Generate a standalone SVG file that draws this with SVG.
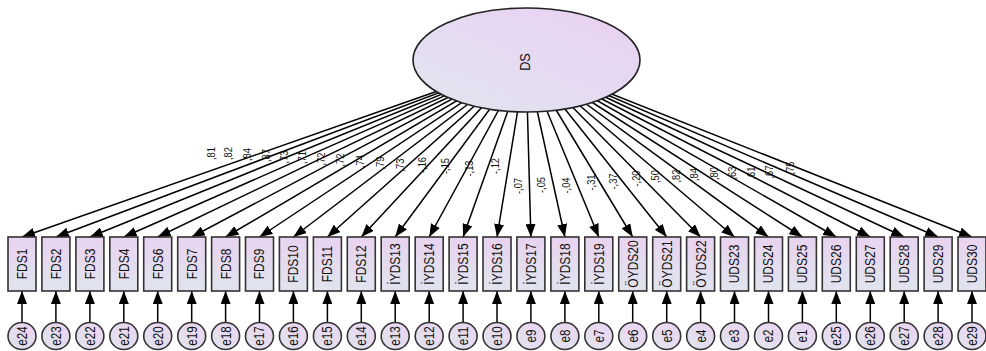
<svg xmlns="http://www.w3.org/2000/svg" width="986" height="351" viewBox="0 0 986 351">
  <defs>
    <linearGradient id="gLatent" x1="0" y1="1" x2="1" y2="0">
      <stop offset="0" stop-color="#e2e5f0"/>
      <stop offset="1" stop-color="#e9d0f2"/>
    </linearGradient>
    <linearGradient id="gBox" x1="0" y1="0" x2="0" y2="1">
      <stop offset="0" stop-color="#e9d3f0"/>
      <stop offset="1" stop-color="#e0e4ee"/>
    </linearGradient>
    <linearGradient id="gErr" x1="0" y1="1" x2="1" y2="0">
      <stop offset="0" stop-color="#e1e4ee"/>
      <stop offset="1" stop-color="#ebd3f1"/>
    </linearGradient>
    <marker id="head" markerUnits="userSpaceOnUse" markerWidth="13" markerHeight="10" refX="13" refY="5" orient="auto">
      <path d="M0,0 L13,5 L0,10 z" fill="#000"/>
    </marker>
  </defs>
  <style>
    .path { stroke: #000; stroke-width: 1.5; fill: none; marker-end: url(#head); }
    .box { fill: url(#gBox); stroke: #333; stroke-width: 1.6; }
    .err { fill: url(#gErr); stroke: #333; stroke-width: 1.6; }
    .lat { fill: url(#gLatent); stroke: #222; stroke-width: 1.6; }
    text { font-family: "Liberation Sans", Arial, sans-serif; fill: #111; text-anchor: middle; dominant-baseline: central; }
    .vn { font-size: 15px; }
    .en { font-size: 14.5px; }
    .coef { font-size: 11px; }
  </style>

  <!-- regression paths: latent factor to indicators, errors to indicators -->
  <g id="connectors">
    <line class="path" x1="526" y1="60" x2="22" y2="237"/>
    <line class="path" x1="526" y1="60" x2="55.9" y2="237"/>
    <line class="path" x1="526" y1="60" x2="89.9" y2="237"/>
    <line class="path" x1="526" y1="60" x2="123.8" y2="237"/>
    <line class="path" x1="526" y1="60" x2="157.7" y2="237"/>
    <line class="path" x1="526" y1="60" x2="191.7" y2="237"/>
    <line class="path" x1="526" y1="60" x2="225.6" y2="237"/>
    <line class="path" x1="526" y1="60" x2="259.5" y2="237"/>
    <line class="path" x1="526" y1="60" x2="293.4" y2="237"/>
    <line class="path" x1="526" y1="60" x2="327.4" y2="237"/>
    <line class="path" x1="526" y1="60" x2="361.3" y2="237"/>
    <line class="path" x1="526" y1="60" x2="395.2" y2="237"/>
    <line class="path" x1="526" y1="60" x2="429.2" y2="237"/>
    <line class="path" x1="526" y1="60" x2="463.1" y2="237"/>
    <line class="path" x1="526" y1="60" x2="497" y2="237"/>
    <line class="path" x1="526" y1="60" x2="530.9" y2="237"/>
    <line class="path" x1="526" y1="60" x2="564.9" y2="237"/>
    <line class="path" x1="526" y1="60" x2="598.8" y2="237"/>
    <line class="path" x1="526" y1="60" x2="632.7" y2="237"/>
    <line class="path" x1="526" y1="60" x2="666.7" y2="237"/>
    <line class="path" x1="526" y1="60" x2="700.6" y2="237"/>
    <line class="path" x1="526" y1="60" x2="734.5" y2="237"/>
    <line class="path" x1="526" y1="60" x2="768.5" y2="237"/>
    <line class="path" x1="526" y1="60" x2="802.4" y2="237"/>
    <line class="path" x1="526" y1="60" x2="836.3" y2="237"/>
    <line class="path" x1="526" y1="60" x2="870.3" y2="237"/>
    <line class="path" x1="526" y1="60" x2="904.2" y2="237"/>
    <line class="path" x1="526" y1="60" x2="938.1" y2="237"/>
    <line class="path" x1="526" y1="60" x2="972" y2="237"/>

    <line class="path" x1="22" y1="323" x2="22" y2="291"/>
    <line class="path" x1="55.9" y1="323" x2="55.9" y2="291"/>
    <line class="path" x1="89.9" y1="323" x2="89.9" y2="291"/>
    <line class="path" x1="123.8" y1="323" x2="123.8" y2="291"/>
    <line class="path" x1="157.7" y1="323" x2="157.7" y2="291"/>
    <line class="path" x1="191.7" y1="323" x2="191.7" y2="291"/>
    <line class="path" x1="225.6" y1="323" x2="225.6" y2="291"/>
    <line class="path" x1="259.5" y1="323" x2="259.5" y2="291"/>
    <line class="path" x1="293.4" y1="323" x2="293.4" y2="291"/>
    <line class="path" x1="327.4" y1="323" x2="327.4" y2="291"/>
    <line class="path" x1="361.3" y1="323" x2="361.3" y2="291"/>
    <line class="path" x1="395.2" y1="323" x2="395.2" y2="291"/>
    <line class="path" x1="429.2" y1="323" x2="429.2" y2="291"/>
    <line class="path" x1="463.1" y1="323" x2="463.1" y2="291"/>
    <line class="path" x1="497" y1="323" x2="497" y2="291"/>
    <line class="path" x1="530.9" y1="323" x2="530.9" y2="291"/>
    <line class="path" x1="564.9" y1="323" x2="564.9" y2="291"/>
    <line class="path" x1="598.8" y1="323" x2="598.8" y2="291"/>
    <line class="path" x1="632.7" y1="323" x2="632.7" y2="291"/>
    <line class="path" x1="666.7" y1="323" x2="666.7" y2="291"/>
    <line class="path" x1="700.6" y1="323" x2="700.6" y2="291"/>
    <line class="path" x1="734.5" y1="323" x2="734.5" y2="291"/>
    <line class="path" x1="768.5" y1="323" x2="768.5" y2="291"/>
    <line class="path" x1="802.4" y1="323" x2="802.4" y2="291"/>
    <line class="path" x1="836.3" y1="323" x2="836.3" y2="291"/>
    <line class="path" x1="870.3" y1="323" x2="870.3" y2="291"/>
    <line class="path" x1="904.2" y1="323" x2="904.2" y2="291"/>
    <line class="path" x1="938.1" y1="323" x2="938.1" y2="291"/>
    <line class="path" x1="972" y1="323" x2="972" y2="291"/>

    <!-- standardized loadings -->
    <g class="coef">
      <text transform="translate(211,153.5) rotate(-90) scale(0.85,1)">,81</text>
      <text transform="translate(228.5,153.5) rotate(-90) scale(0.85,1)">,82</text>
      <text transform="translate(247.5,154.5) rotate(-90) scale(0.85,1)">,84</text>
      <text transform="translate(266,155.5) rotate(-90) scale(0.85,1)">,87</text>
      <text transform="translate(284,157) rotate(-90) scale(0.85,1)">,73</text>
      <text transform="translate(302,157.5) rotate(-90) scale(0.85,1)">,71</text>
      <text transform="translate(321,159) rotate(-90) scale(0.85,1)">,72</text>
      <text transform="translate(340,160) rotate(-90) scale(0.85,1)">,72</text>
      <text transform="translate(360,161.5) rotate(-90) scale(0.85,1)">,74</text>
      <text transform="translate(380,163) rotate(-90) scale(0.85,1)">,79</text>
      <text transform="translate(400,165) rotate(-90) scale(0.85,1)">,73</text>
      <text transform="translate(422,165) rotate(-90) scale(0.85,1)">-,16</text>
      <text transform="translate(445,166) rotate(-90) scale(0.85,1)">-,15</text>
      <text transform="translate(469,168.5) rotate(-90) scale(0.85,1)">-,13</text>
      <text transform="translate(495,166) rotate(-90) scale(0.85,1)">-,12</text>
      <text transform="translate(518.5,186) rotate(-90) scale(0.85,1)">-,07</text>
      <text transform="translate(541.5,185) rotate(-90) scale(0.85,1)">-,05</text>
      <text transform="translate(566.5,185.5) rotate(-90) scale(0.85,1)">-,04</text>
      <text transform="translate(591.5,182.5) rotate(-90) scale(0.85,1)">-,31</text>
      <text transform="translate(613.5,181.5) rotate(-90) scale(0.85,1)">-,37</text>
      <text transform="translate(636.5,178.5) rotate(-90) scale(0.85,1)">-,20</text>
      <text transform="translate(655,176.5) rotate(-90) scale(0.85,1)">,50</text>
      <text transform="translate(676,176) rotate(-90) scale(0.85,1)">,82</text>
      <text transform="translate(694,174.5) rotate(-90) scale(0.85,1)">,84</text>
      <text transform="translate(714,173.5) rotate(-90) scale(0.85,1)">,80</text>
      <text transform="translate(732.5,173) rotate(-90) scale(0.85,1)">,63</text>
      <text transform="translate(751,173) rotate(-90) scale(0.85,1)">,61</text>
      <text transform="translate(769,172) rotate(-90) scale(0.85,1)">,67</text>
      <text transform="translate(790,168) rotate(-90) scale(0.85,1)">,75</text>
    </g>
  </g>

  <!-- latent factor -->
  <g id="DS">
    <ellipse class="lat" cx="526.5" cy="60" rx="113.5" ry="52"/>
    <text class="vn" transform="translate(525,62) rotate(-90) scale(0.85,1)">DS</text>
  </g>

  <!-- observed indicators -->
  <g id="FDS1"><rect class="box" x="8" y="237" width="28" height="54"/><text class="vn" transform="translate(22,264) rotate(-90) scale(0.8,1)">FDS1</text></g>
  <g id="FDS2"><rect class="box" x="41.9" y="237" width="28" height="54"/><text class="vn" transform="translate(55.9,264) rotate(-90) scale(0.8,1)">FDS2</text></g>
  <g id="FDS3"><rect class="box" x="75.9" y="237" width="28" height="54"/><text class="vn" transform="translate(89.9,264) rotate(-90) scale(0.8,1)">FDS3</text></g>
  <g id="FDS4"><rect class="box" x="109.8" y="237" width="28" height="54"/><text class="vn" transform="translate(123.8,264) rotate(-90) scale(0.8,1)">FDS4</text></g>
  <g id="FDS6"><rect class="box" x="143.7" y="237" width="28" height="54"/><text class="vn" transform="translate(157.7,264) rotate(-90) scale(0.8,1)">FDS6</text></g>
  <g id="FDS7"><rect class="box" x="177.7" y="237" width="28" height="54"/><text class="vn" transform="translate(191.7,264) rotate(-90) scale(0.8,1)">FDS7</text></g>
  <g id="FDS8"><rect class="box" x="211.6" y="237" width="28" height="54"/><text class="vn" transform="translate(225.6,264) rotate(-90) scale(0.8,1)">FDS8</text></g>
  <g id="FDS9"><rect class="box" x="245.5" y="237" width="28" height="54"/><text class="vn" transform="translate(259.5,264) rotate(-90) scale(0.8,1)">FDS9</text></g>
  <g id="FDS10"><rect class="box" x="279.4" y="237" width="28" height="54"/><text class="vn" transform="translate(293.4,264) rotate(-90) scale(0.8,1)">FDS10</text></g>
  <g id="FDS11"><rect class="box" x="313.4" y="237" width="28" height="54"/><text class="vn" transform="translate(327.4,264) rotate(-90) scale(0.8,1)">FDS11</text></g>
  <g id="FDS12"><rect class="box" x="347.3" y="237" width="28" height="54"/><text class="vn" transform="translate(361.3,264) rotate(-90) scale(0.8,1)">FDS12</text></g>
  <g id="IYDS13"><rect class="box" x="381.2" y="237" width="28" height="54"/><text class="vn" transform="translate(395.2,264) rotate(-90) scale(0.8,1)">İYDS13</text></g>
  <g id="IYDS14"><rect class="box" x="415.2" y="237" width="28" height="54"/><text class="vn" transform="translate(429.2,264) rotate(-90) scale(0.8,1)">İYDS14</text></g>
  <g id="IYDS15"><rect class="box" x="449.1" y="237" width="28" height="54"/><text class="vn" transform="translate(463.1,264) rotate(-90) scale(0.8,1)">İYDS15</text></g>
  <g id="IYDS16"><rect class="box" x="483" y="237" width="28" height="54"/><text class="vn" transform="translate(497,264) rotate(-90) scale(0.8,1)">İYDS16</text></g>
  <g id="IYDS17"><rect class="box" x="516.9" y="237" width="28" height="54"/><text class="vn" transform="translate(530.9,264) rotate(-90) scale(0.8,1)">İYDS17</text></g>
  <g id="IYDS18"><rect class="box" x="550.9" y="237" width="28" height="54"/><text class="vn" transform="translate(564.9,264) rotate(-90) scale(0.8,1)">İYDS18</text></g>
  <g id="IYDS19"><rect class="box" x="584.8" y="237" width="28" height="54"/><text class="vn" transform="translate(598.8,264) rotate(-90) scale(0.8,1)">İYDS19</text></g>
  <g id="OYDS20"><rect class="box" x="618.7" y="237" width="28" height="54"/><text class="vn" transform="translate(632.7,264) rotate(-90) scale(0.8,1)">ÖYDS20</text></g>
  <g id="OYDS21"><rect class="box" x="652.7" y="237" width="28" height="54"/><text class="vn" transform="translate(666.7,264) rotate(-90) scale(0.8,1)">ÖYDS21</text></g>
  <g id="OYDS22"><rect class="box" x="686.6" y="237" width="28" height="54"/><text class="vn" transform="translate(700.6,264) rotate(-90) scale(0.8,1)">ÖYDS22</text></g>
  <g id="UDS23"><rect class="box" x="720.5" y="237" width="28" height="54"/><text class="vn" transform="translate(734.5,264) rotate(-90) scale(0.8,1)">UDS23</text></g>
  <g id="UDS24"><rect class="box" x="754.5" y="237" width="28" height="54"/><text class="vn" transform="translate(768.5,264) rotate(-90) scale(0.8,1)">UDS24</text></g>
  <g id="UDS25"><rect class="box" x="788.4" y="237" width="28" height="54"/><text class="vn" transform="translate(802.4,264) rotate(-90) scale(0.8,1)">UDS25</text></g>
  <g id="UDS26"><rect class="box" x="822.3" y="237" width="28" height="54"/><text class="vn" transform="translate(836.3,264) rotate(-90) scale(0.8,1)">UDS26</text></g>
  <g id="UDS27"><rect class="box" x="856.3" y="237" width="28" height="54"/><text class="vn" transform="translate(870.3,264) rotate(-90) scale(0.8,1)">UDS27</text></g>
  <g id="UDS28"><rect class="box" x="890.2" y="237" width="28" height="54"/><text class="vn" transform="translate(904.2,264) rotate(-90) scale(0.8,1)">UDS28</text></g>
  <g id="UDS29"><rect class="box" x="924.1" y="237" width="28" height="54"/><text class="vn" transform="translate(938.1,264) rotate(-90) scale(0.8,1)">UDS29</text></g>
  <g id="UDS30"><rect class="box" x="958" y="237" width="28" height="54"/><text class="vn" transform="translate(972,264) rotate(-90) scale(0.8,1)">UDS30</text></g>

  <!-- error terms -->
  <g id="e24"><ellipse class="err" cx="22" cy="336" rx="14" ry="13.5"/><text class="en" transform="translate(22,336) rotate(-90) scale(0.8,1)">e24</text></g>
  <g id="e23"><ellipse class="err" cx="55.9" cy="336" rx="14" ry="13.5"/><text class="en" transform="translate(55.9,336) rotate(-90) scale(0.8,1)">e23</text></g>
  <g id="e22"><ellipse class="err" cx="89.9" cy="336" rx="14" ry="13.5"/><text class="en" transform="translate(89.9,336) rotate(-90) scale(0.8,1)">e22</text></g>
  <g id="e21"><ellipse class="err" cx="123.8" cy="336" rx="14" ry="13.5"/><text class="en" transform="translate(123.8,336) rotate(-90) scale(0.8,1)">e21</text></g>
  <g id="e20"><ellipse class="err" cx="157.7" cy="336" rx="14" ry="13.5"/><text class="en" transform="translate(157.7,336) rotate(-90) scale(0.8,1)">e20</text></g>
  <g id="e19"><ellipse class="err" cx="191.7" cy="336" rx="14" ry="13.5"/><text class="en" transform="translate(191.7,336) rotate(-90) scale(0.8,1)">e19</text></g>
  <g id="e18"><ellipse class="err" cx="225.6" cy="336" rx="14" ry="13.5"/><text class="en" transform="translate(225.6,336) rotate(-90) scale(0.8,1)">e18</text></g>
  <g id="e17"><ellipse class="err" cx="259.5" cy="336" rx="14" ry="13.5"/><text class="en" transform="translate(259.5,336) rotate(-90) scale(0.8,1)">e17</text></g>
  <g id="e16"><ellipse class="err" cx="293.4" cy="336" rx="14" ry="13.5"/><text class="en" transform="translate(293.4,336) rotate(-90) scale(0.8,1)">e16</text></g>
  <g id="e15"><ellipse class="err" cx="327.4" cy="336" rx="14" ry="13.5"/><text class="en" transform="translate(327.4,336) rotate(-90) scale(0.8,1)">e15</text></g>
  <g id="e14"><ellipse class="err" cx="361.3" cy="336" rx="14" ry="13.5"/><text class="en" transform="translate(361.3,336) rotate(-90) scale(0.8,1)">e14</text></g>
  <g id="e13"><ellipse class="err" cx="395.2" cy="336" rx="14" ry="13.5"/><text class="en" transform="translate(395.2,336) rotate(-90) scale(0.8,1)">e13</text></g>
  <g id="e12"><ellipse class="err" cx="429.2" cy="336" rx="14" ry="13.5"/><text class="en" transform="translate(429.2,336) rotate(-90) scale(0.8,1)">e12</text></g>
  <g id="e11"><ellipse class="err" cx="463.1" cy="336" rx="14" ry="13.5"/><text class="en" transform="translate(463.1,336) rotate(-90) scale(0.8,1)">e11</text></g>
  <g id="e10"><ellipse class="err" cx="497" cy="336" rx="14" ry="13.5"/><text class="en" transform="translate(497,336) rotate(-90) scale(0.8,1)">e10</text></g>
  <g id="e9"><ellipse class="err" cx="530.9" cy="336" rx="14" ry="13.5"/><text class="en" transform="translate(530.9,336) rotate(-90) scale(0.8,1)">e9</text></g>
  <g id="e8"><ellipse class="err" cx="564.9" cy="336" rx="14" ry="13.5"/><text class="en" transform="translate(564.9,336) rotate(-90) scale(0.8,1)">e8</text></g>
  <g id="e7"><ellipse class="err" cx="598.8" cy="336" rx="14" ry="13.5"/><text class="en" transform="translate(598.8,336) rotate(-90) scale(0.8,1)">e7</text></g>
  <g id="e6"><ellipse class="err" cx="632.7" cy="336" rx="14" ry="13.5"/><text class="en" transform="translate(632.7,336) rotate(-90) scale(0.8,1)">e6</text></g>
  <g id="e5"><ellipse class="err" cx="666.7" cy="336" rx="14" ry="13.5"/><text class="en" transform="translate(666.7,336) rotate(-90) scale(0.8,1)">e5</text></g>
  <g id="e4"><ellipse class="err" cx="700.6" cy="336" rx="14" ry="13.5"/><text class="en" transform="translate(700.6,336) rotate(-90) scale(0.8,1)">e4</text></g>
  <g id="e3"><ellipse class="err" cx="734.5" cy="336" rx="14" ry="13.5"/><text class="en" transform="translate(734.5,336) rotate(-90) scale(0.8,1)">e3</text></g>
  <g id="e2"><ellipse class="err" cx="768.5" cy="336" rx="14" ry="13.5"/><text class="en" transform="translate(768.5,336) rotate(-90) scale(0.8,1)">e2</text></g>
  <g id="e1"><ellipse class="err" cx="802.4" cy="336" rx="14" ry="13.5"/><text class="en" transform="translate(802.4,336) rotate(-90) scale(0.8,1)">e1</text></g>
  <g id="e25"><ellipse class="err" cx="836.3" cy="336" rx="14" ry="13.5"/><text class="en" transform="translate(836.3,336) rotate(-90) scale(0.8,1)">e25</text></g>
  <g id="e26"><ellipse class="err" cx="870.3" cy="336" rx="14" ry="13.5"/><text class="en" transform="translate(870.3,336) rotate(-90) scale(0.8,1)">e26</text></g>
  <g id="e27"><ellipse class="err" cx="904.2" cy="336" rx="14" ry="13.5"/><text class="en" transform="translate(904.2,336) rotate(-90) scale(0.8,1)">e27</text></g>
  <g id="e28"><ellipse class="err" cx="938.1" cy="336" rx="14" ry="13.5"/><text class="en" transform="translate(938.1,336) rotate(-90) scale(0.8,1)">e28</text></g>
  <g id="e29"><ellipse class="err" cx="972" cy="336" rx="14" ry="13.5"/><text class="en" transform="translate(972,336) rotate(-90) scale(0.8,1)">e29</text></g>
</svg>
